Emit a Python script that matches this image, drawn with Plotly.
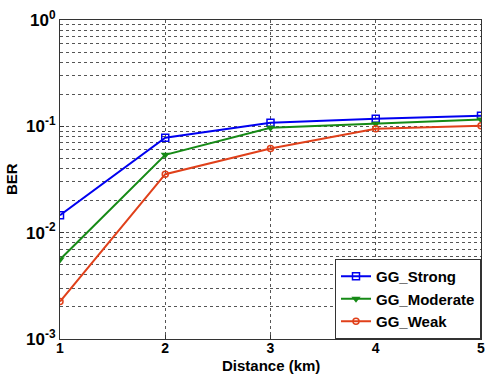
import plotly.graph_objects as go

distance = [1, 2, 3, 4, 5]
ber_strong = [0.0146, 0.078, 0.108, 0.118, 0.126]
ber_moderate = [0.0056, 0.054, 0.097, 0.106, 0.116]
ber_weak = [0.00225, 0.0355, 0.062, 0.095, 0.101]

series_names = ["GG_Strong", "GG_Moderate", "GG_Weak"]
y_tickvals = [1e-3, 1e-2, 1e-1, 1]
y_ticktext = ["10<sup>-3</sup>", "10<sup>-2</sup>", "10<sup>-1</sup>", "10<sup>0</sup>"]

font_family = "Liberation Sans, Arial, sans-serif"

fig = go.Figure()
fig.add_trace(go.Scatter(
    x=distance, y=ber_strong, name="<b>" + series_names[0] + "</b>", mode="lines+markers",
    line=dict(color="#0000F0", width=2),
    marker=dict(symbol="square-open", size=7, color="#0000F0", line=dict(width=1.5))))
fig.add_trace(go.Scatter(
    x=distance, y=ber_moderate, name="<b>" + series_names[1] + "</b>", mode="lines+markers",
    line=dict(color="#168A16", width=2),
    marker=dict(symbol="triangle-down", size=8, color="#168A16")))
fig.add_trace(go.Scatter(
    x=distance, y=ber_weak, name="<b>" + series_names[2] + "</b>", mode="lines+markers",
    line=dict(color="#E0401A", width=2),
    marker=dict(symbol="circle-open", size=6, color="#E0401A", line=dict(width=1.5))))

fig.update_layout(
    width=485, height=375,
    margin=dict(l=60, r=4, t=20, b=36, autoexpand=False),
    paper_bgcolor="white", plot_bgcolor="white",
    font=dict(family=font_family, size=14, color="black"),
    showlegend=True,
    legend=dict(
        x=1, y=0, xanchor="right", yanchor="bottom",
        bgcolor="white", bordercolor="#333333", borderwidth=1,
        font=dict(family=font_family, size=15, color="black"),
        tracegroupgap=0, itemwidth=30,
    ),
    annotations=[
        dict(text="<b>Distance (km)</b>", xref="paper", yref="paper", x=0.5, y=0,
             yshift=-37, xanchor="center", yanchor="bottom", showarrow=False,
             font=dict(family=font_family, size=15, color="black")),
        dict(text="<b>BER</b>", xref="paper", yref="paper", x=0, y=0.5,
             xshift=-38, xanchor="right", yanchor="middle", showarrow=False, textangle=-90,
             font=dict(family=font_family, size=15, color="black")),
    ],
)
fig.update_xaxes(
    range=[1, 5], tickvals=distance, ticktext=["<b>%d</b>" % d for d in distance],
    showline=True, linecolor="#333333", linewidth=1, mirror=True,
    showgrid=True, gridcolor="#555555", griddash="dot", gridwidth=1,
    ticks="inside", ticklen=4, tickcolor="#333333",
    tickfont=dict(family=font_family, size=14),
    ticklabelstandoff=-4, ticklabeloverflow="allow",
    zeroline=False, automargin=False,
)
fig.update_yaxes(
    type="log", range=[-3, 0], tickvals=y_tickvals, ticktext=["<b>" + t + "</b>" for t in y_ticktext],
    showline=True, linecolor="#333333", linewidth=1, mirror=True,
    showgrid=True, gridcolor="#555555", griddash="dot", gridwidth=1,
    minor=dict(dtick="D1", showgrid=True, gridcolor="#555555", griddash="dot", gridwidth=1),
    ticks="inside", ticklen=4, tickcolor="#333333",
    tickfont=dict(family=font_family, size=17),
    ticklabeloverflow="allow",
    zeroline=False, automargin=False,
)

fig.write_html("out.html", config={"displayModeBar": False},
               post_script="document.body.style.margin='0';document.body.style.overflow='hidden';")
